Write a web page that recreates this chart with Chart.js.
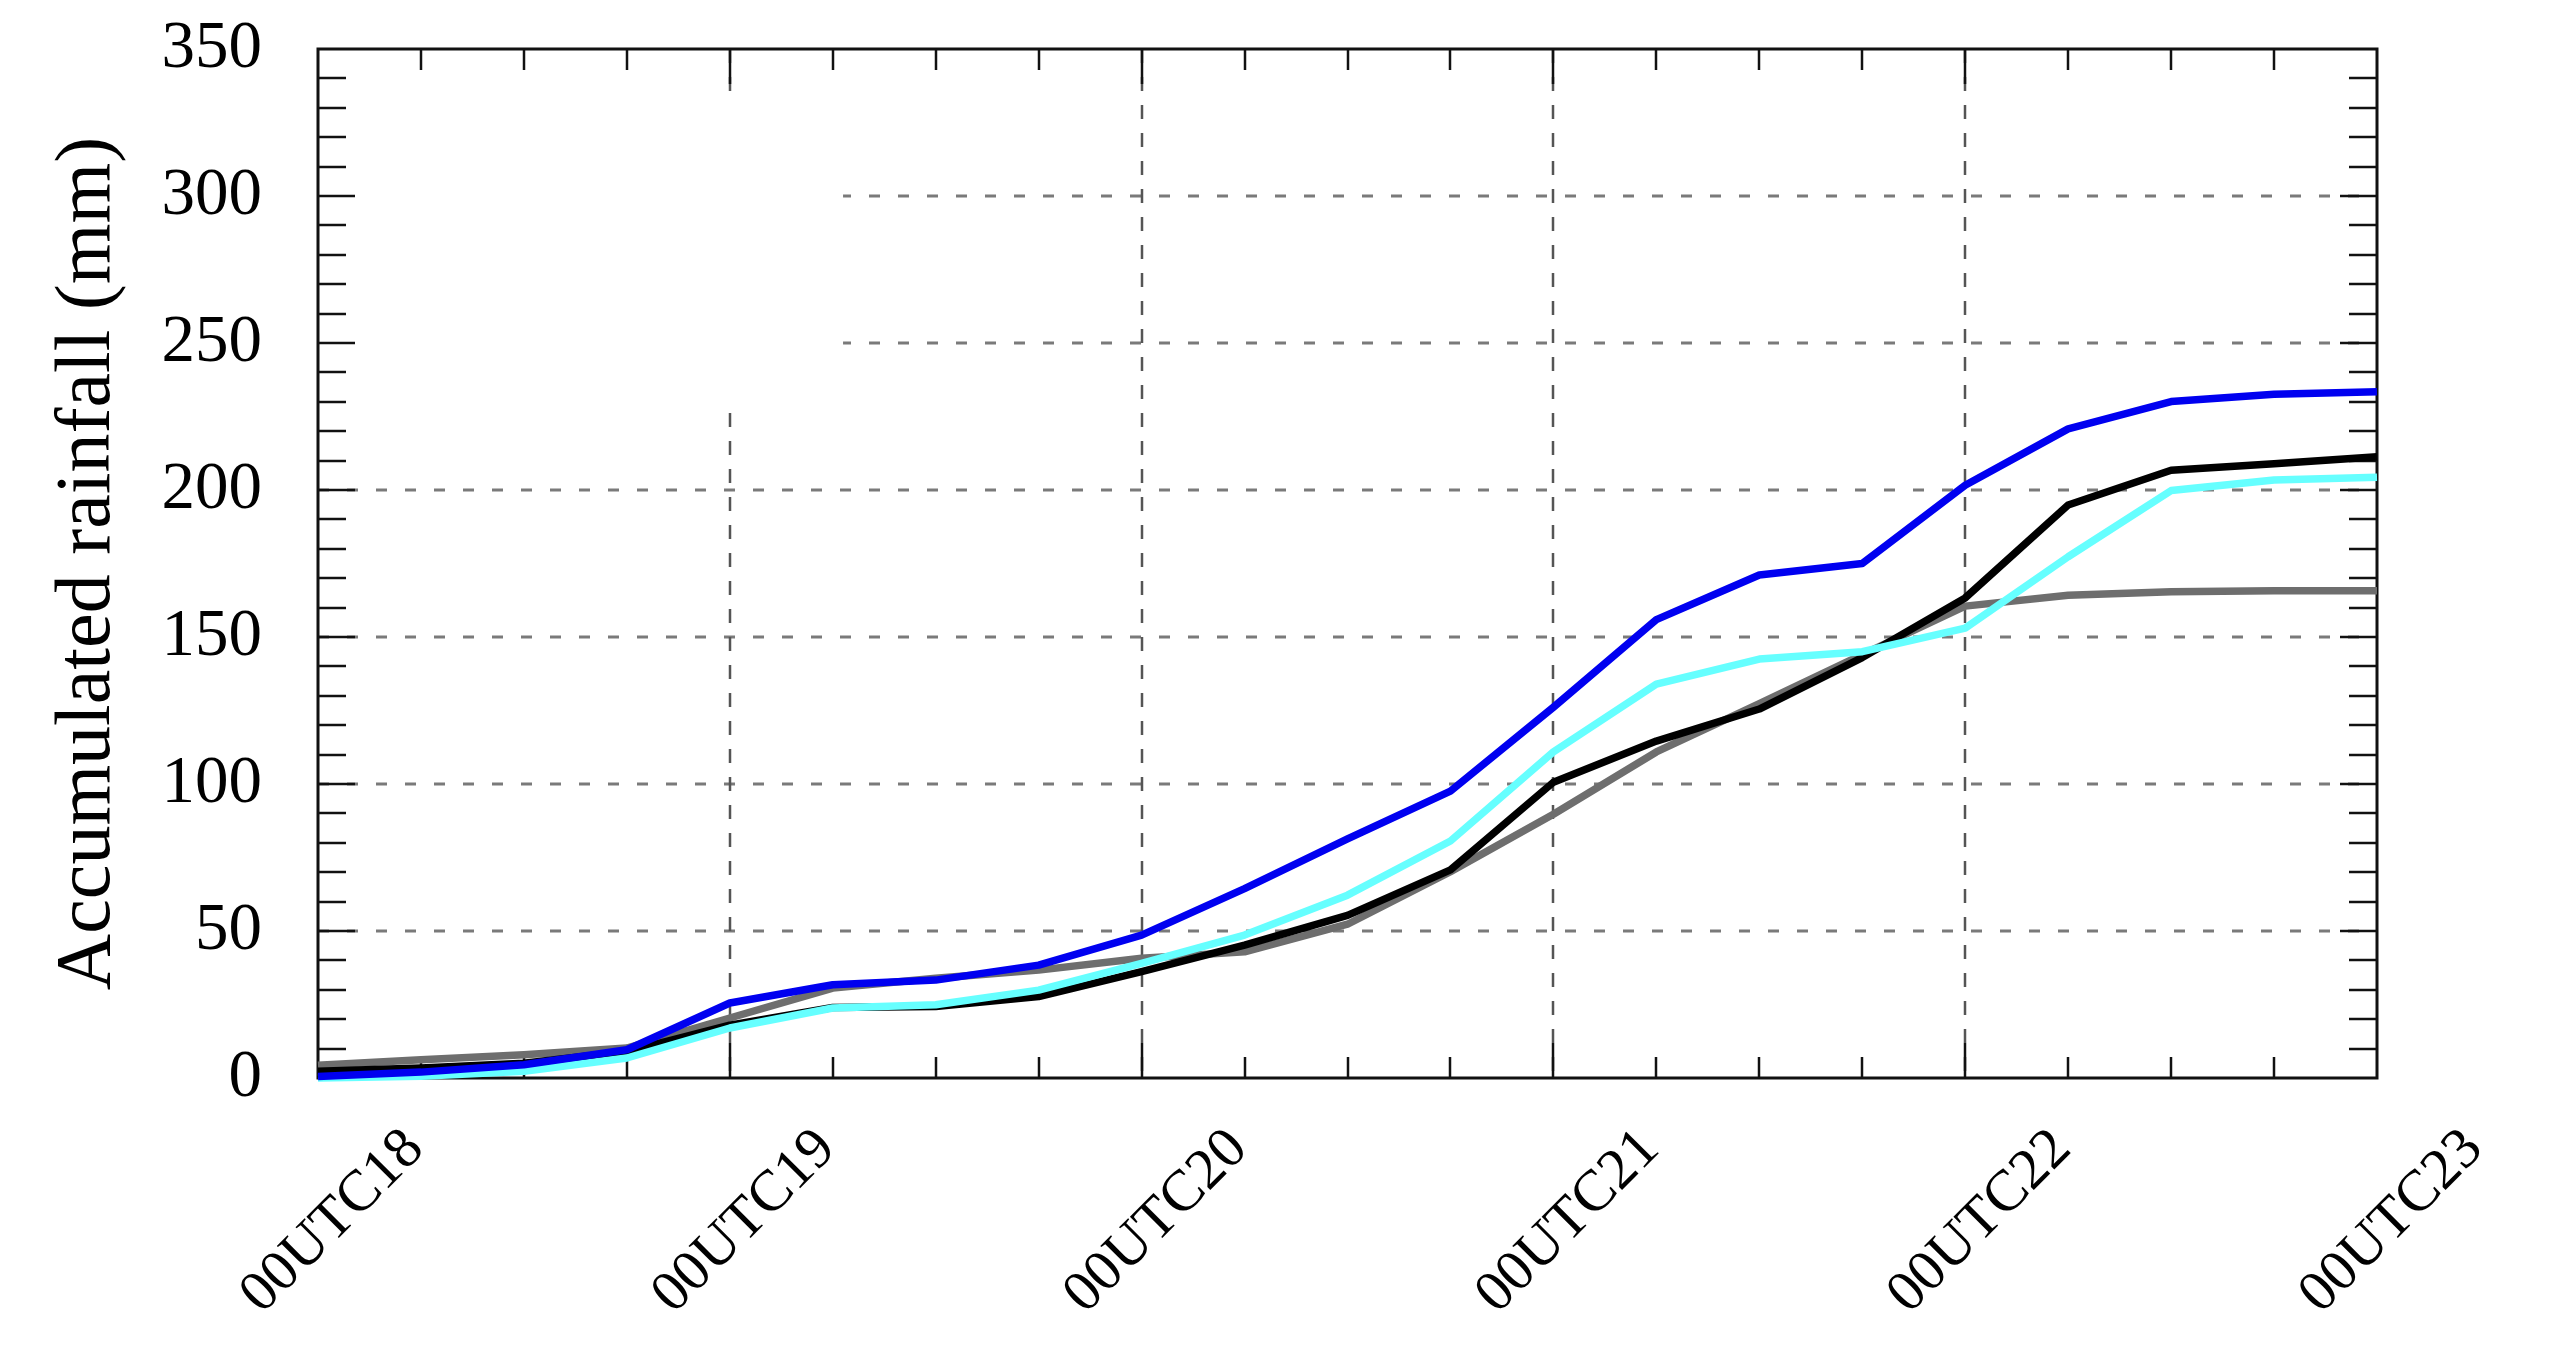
<!DOCTYPE html>
<html>
<head>
<meta charset="utf-8">
<script src="https://cdn.jsdelivr.net/npm/chart.js@4.4.0/dist/chart.umd.min.js"></script>
<style>
  html, body { margin: 0; padding: 0; background: #fff; }
  canvas { display: block; }
</style>
</head>
<body>
<canvas id="rainChart" width="2560" height="1362"></canvas>
<script>
// Hours since 00UTC18, one value every 6 h
const hours = [0, 6, 12, 18, 24, 30, 36, 42, 48, 54, 60, 66, 72, 78, 84, 90, 96, 102, 108, 114, 120];
const dayTicks = [0, 24, 48, 72, 96, 120];
const dayLabels = ['00UTC18', '00UTC19', '00UTC20', '00UTC21', '00UTC22', '00UTC23'];

// Accumulated rainfall (mm)
const blueSeries  = [0.5, 2, 4.5, 9.6, 25.5, 31.7, 33.3, 38.4, 48.6, 64.4, 81.3, 97.6, 126.1, 155.9, 171.1, 175, 201.6, 220.8, 230.1, 232.6, 233.4];
const cyanSeries  = [0, 0.6, 2.3, 6.8, 17, 23.8, 24.9, 29.9, 39, 48.6, 62.2, 80.6, 110.9, 134, 142.5, 145, 153, 177.3, 199.8, 203.4, 204.3];
const blackSeries = [2.3, 3.4, 5, 9, 18, 24, 24.3, 27.7, 36.2, 45.2, 55.3, 70.8, 100.6, 114.6, 125.5, 143, 163.3, 194.9, 206.7, 208.9, 211.3];
const graySeries  = [4.3, 6.2, 7.9, 10.2, 20.4, 30.6, 33.9, 36.7, 40.7, 42.9, 52.3, 70.2, 89.7, 110.9, 127.3, 144, 160.5, 164.2, 165.4, 165.7, 165.7];

const yMax = 350;

function toPoints(series) {
    return hours.map((h, i) => ({ x: h, y: series[i] }));
}

function makeLine(series, color) {
    return {
        data: toPoints(series),
        borderColor: color,
        borderWidth: 7.5,
        pointRadius: 0,
        tension: 0,
        fill: false,
        clip: false,
        borderJoinStyle: 'round'
    };
}

function strokeLine(ctx, x0, y0, x1, y1) {
    ctx.beginPath();
    ctx.moveTo(x0, y0);
    ctx.lineTo(x1, y1);
    ctx.stroke();
}

// dashed grid, the blank legend box, inward ticks and the frame
const frameAndGrid = {
    id: 'frameAndGrid',
    beforeDatasetsDraw(chart) {
        const { ctx, chartArea: a, scales: { x, y } } = chart;
        ctx.save();

        ctx.setLineDash([11, 18]);
        ctx.strokeStyle = '#7a7a7a';
        ctx.lineWidth = 3;
        for (let v = 50; v < yMax; v += 50) {
            const py = Math.round(y.getPixelForValue(v));
            strokeLine(ctx, a.left, py, a.right, py);
        }
        ctx.setLineDash([14, 14]);
        ctx.strokeStyle = '#555';
        ctx.lineWidth = 2.5;
        dayTicks.slice(1, -1).forEach(h => {
            const px = Math.round(x.getPixelForValue(h));
            strokeLine(ctx, px, a.top, px, a.bottom);
        });
        ctx.setLineDash([]);

        // empty legend box in the upper left corner
        ctx.fillStyle = '#fff';
        const bx0 = x.getPixelForValue(0), bx1 = x.getPixelForValue(30.6);
        const by0 = y.getPixelForValue(333), by1 = y.getPixelForValue(229);
        ctx.fillRect(bx0, by0, bx1 - bx0, by1 - by0);

        ctx.strokeStyle = '#111';
        ctx.lineWidth = 2.5;
        for (let v = 10; v < yMax; v += 10) {
            const py = Math.round(y.getPixelForValue(v));
            const len = v % 50 === 0 ? 37 : 28;
            strokeLine(ctx, a.left, py, a.left + len, py);
            strokeLine(ctx, a.right - len, py, a.right, py);
        }
        for (let h = 6; h < 120; h += 6) {
            const px = Math.round(x.getPixelForValue(h));
            const len = h % 24 === 0 ? 35 : 21;
            strokeLine(ctx, px, a.bottom, px, a.bottom - len);
            strokeLine(ctx, px, a.top, px, a.top + len);
        }

        ctx.lineWidth = 3;
        ctx.strokeRect(a.left, a.top, a.right - a.left, a.bottom - a.top);
        ctx.restore();
    },
    afterDraw(chart) {
        const { ctx, chartArea: a, scales: { x } } = chart;
        ctx.save();
        ctx.fillStyle = '#000';
        ctx.font = '58px "Liberation Serif"';
        ctx.textAlign = 'center';
        ctx.textBaseline = 'middle';
        dayTicks.forEach((h, i) => {
            ctx.save();
            ctx.translate(x.getPixelForValue(h) + 15, a.bottom + 144);
            ctx.rotate(-Math.PI / 4);
            ctx.fillText(dayLabels[i], 0, 0);
            ctx.restore();
        });
        ctx.restore();
    }
};

const ctx = document.getElementById('rainChart').getContext('2d');
new Chart(ctx, {
    type: 'line',
    data: {
        datasets: [
            makeLine(blueSeries, '#0000f0'),
            makeLine(cyanSeries, '#66ffff'),
            makeLine(blackSeries, '#000000'),
            makeLine(graySeries, '#6e6e6e')
        ]
    },
    options: {
        responsive: false,
        animation: false,
        devicePixelRatio: 1,
        layout: { padding: { top: 49, right: 183, left: 0, bottom: 0 } },
        plugins: {
            legend: { display: false },
            tooltip: { enabled: false }
        },
        scales: {
            x: {
                type: 'linear',
                min: 0,
                max: 120,
                grid: { display: false },
                border: { display: false },
                ticks: { display: false },
                afterFit: s => { s.height = 284; }
            },
            y: {
                min: 0,
                max: yMax,
                grid: { display: false },
                border: { display: false },
                ticks: {
                    stepSize: 50,
                    padding: 48,
                    color: '#000',
                    font: { family: 'Liberation Serif', size: 67 }
                },
                title: {
                    display: true,
                    text: 'Accumulated rainfall (mm)',
                    color: '#000',
                    padding: { top: 42, bottom: 0 },
                    font: { family: 'Liberation Serif', size: 78 }
                },
                afterFit: s => {
                    s.width = 318;
                    s.paddingTop = 0;
                    s.paddingBottom = 0;
                }
            }
        }
    },
    plugins: [frameAndGrid]
});
</script>
</body>
</html>
